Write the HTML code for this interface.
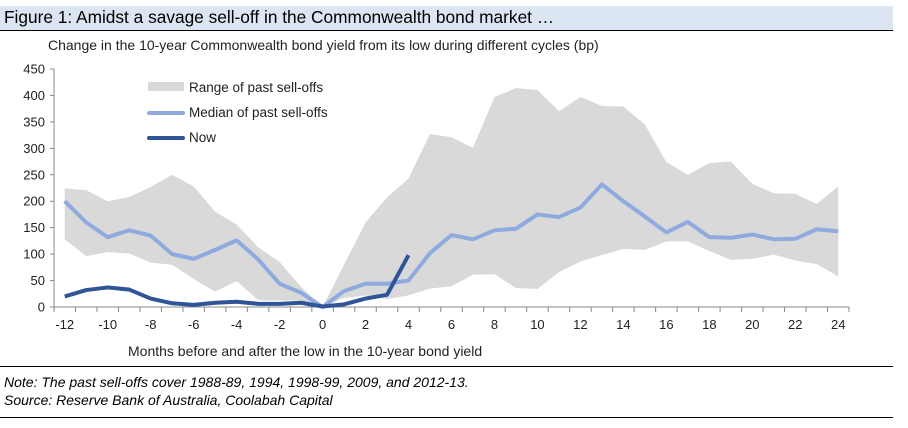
<!DOCTYPE html>
<html><head><meta charset="utf-8"><style>
body{margin:0;width:908px;height:428px;background:#fff;font-family:"Liberation Sans",Calibri,sans-serif;overflow:hidden;position:relative}
.t{position:absolute;white-space:nowrap}
</style></head><body>
<div style="position:absolute;left:0;top:6px;width:893px;height:24px;background:#dce6f2;border-bottom:1px solid #000"></div>
<div class="t" style="left:4px;top:7px;font-size:17.3px;color:#000">Figure 1: Amidst a savage sell-off in the Commonwealth bond market …</div>
<div class="t" style="left:48px;top:37px;font-size:14px;color:#222">Change in the 10-year Commonwealth bond yield from its low during different cycles (bp)</div>
<svg id="chart" width="908" height="428" style="position:absolute;left:0;top:0"></svg>
<div class="t" style="left:128px;top:343px;font-size:14px;color:#222">Months before and after the low in the 10-year bond yield</div>
<div style="position:absolute;left:0;top:366px;width:893px;border-top:1px solid #000"></div>
<div class="t" style="left:4px;top:374px;font-size:14px;font-style:italic">Note: The past sell-offs cover 1988-89, 1994, 1998-99, 2009, and 2012-13.</div>
<div class="t" style="left:4px;top:392px;font-size:14px;font-style:italic">Source: Reserve Bank of Australia, Coolabah Capital</div>
<div style="position:absolute;left:0;top:417px;width:893px;border-top:1px solid #000"></div>
<script>
const months=[-12,-11,-10,-9,-8,-7,-6,-5,-4,-3,-2,-1,0,1,2,3,4,5,6,7,8,9,10,11,12,13,14,15,16,17,18,19,20,21,22,23,24];
const rangeHigh=[224,221,200,208,227,250,228,180,156,113,85,38,0,80,160,207,243,327,321,301,397,414,410,370,397,380,379,345,274,250,272,275,233,215,214,195,228];
const rangeLow=[128,96,104,101,84,80,53,29,49,13,12,12,0,17,22,15,22,35,39,61,62,36,34,66,86,98,110,108,124,124,106,89,91,99,88,81,58];
const median=[200,160,132,145,135,100,91,108,126,90,44,27,0,30,44,44,50,102,136,128,145,148,175,170,188,232,200,171,141,161,132,131,137,128,129,147,143];
const nowMonths=[-12,-11,-10,-9,-8,-7,-6,-5,-4,-3,-2,-1,0,1,2,3,4];
const nowVals=[20,32,37,33,16,7,4,8,10,6,6,8,1,5,16,23,98];
const yTicks=[0,50,100,150,200,250,300,350,400,450];
const xTicks=[-12,-10,-8,-6,-4,-2,0,2,4,6,8,10,12,14,16,18,20,22,24];
const NS='http://www.w3.org/2000/svg';
const svg=document.getElementById('chart');
const X0=54,X1=849,Y0=307,Y1=69;
const cw=(X1-X0)/months.length;
const x=m=>X0+(m-months[0]+0.5)*cw;
const y=v=>Y0-(v/450)*(Y0-Y1);
function mk(tag,at){const e=document.createElementNS(NS,tag);for(const k in at)e.setAttribute(k,at[k]);svg.appendChild(e);return e;}
let pts=months.map((m,i)=>x(m)+','+y(rangeHigh[i]));
for(let i=months.length-1;i>=0;i--)pts.push(x(months[i])+','+y(rangeLow[i]));
const area=mk('polygon',{points:pts.join(' '),fill:'#d9d9d9'});


const ya=mk('line',{x1:X0,y1:Y1,x2:X0,y2:Y0,stroke:'#888'});


const xa=mk('line',{x1:X0,y1:Y0,x2:X1,y2:Y0,stroke:'#888'});


yTicks.forEach(v=>{
  mk('line',{x1:X0-4,y1:y(v),x2:X0,y2:y(v),stroke:'#888'});
  const t=mk('text',{x:X0-9,y:y(v)+4.5,'text-anchor':'end','font-size':'13',fill:'#222','font-family':'Liberation Sans, sans-serif'});
  t.textContent=v;
  
  
});
for(let i=0;i<=months.length;i++){mk('line',{x1:X0+i*cw,y1:Y0,x2:X0+i*cw,y2:Y0+5,stroke:'#888'});}
xTicks.forEach(m=>{
  const t=mk('text',{x:x(m),y:Y0+22,'text-anchor':'middle','font-size':'13',fill:'#222','font-family':'Liberation Sans, sans-serif'});
  t.textContent=m;
  
  
});
const med=mk('polyline',{points:months.map((m,i)=>x(m)+','+y(median[i])).join(' '),fill:'none',stroke:'#8eaadf','stroke-width':'4','stroke-linejoin':'round'});


const now=mk('polyline',{points:nowMonths.map((m,i)=>x(m)+','+y(nowVals[i])).join(' '),fill:'none',stroke:'#2f5597','stroke-width':'4','stroke-linejoin':'round'});


const lr=mk('rect',{x:148,y:82,width:36,height:9,fill:'#d9d9d9'});


const l2=mk('line',{x1:149,y1:113,x2:183,y2:113,stroke:'#8eaadf','stroke-width':'4','stroke-linecap':'round'});


const l3=mk('line',{x1:149,y1:138,x2:183,y2:138,stroke:'#2f5597','stroke-width':'4','stroke-linecap':'round'});


[['Range of past sell-offs',92,'legend-range-label'],['Median of past sell-offs',117,'legend-median-label'],['Now',142,'legend-now-label']].forEach(a=>{
  const t=mk('text',{x:189,y:a[1],'font-size':'13.5',fill:'#222','font-family':'Liberation Sans, sans-serif'});
  t.textContent=a[0];
  
  
});
</script>
</body></html>
